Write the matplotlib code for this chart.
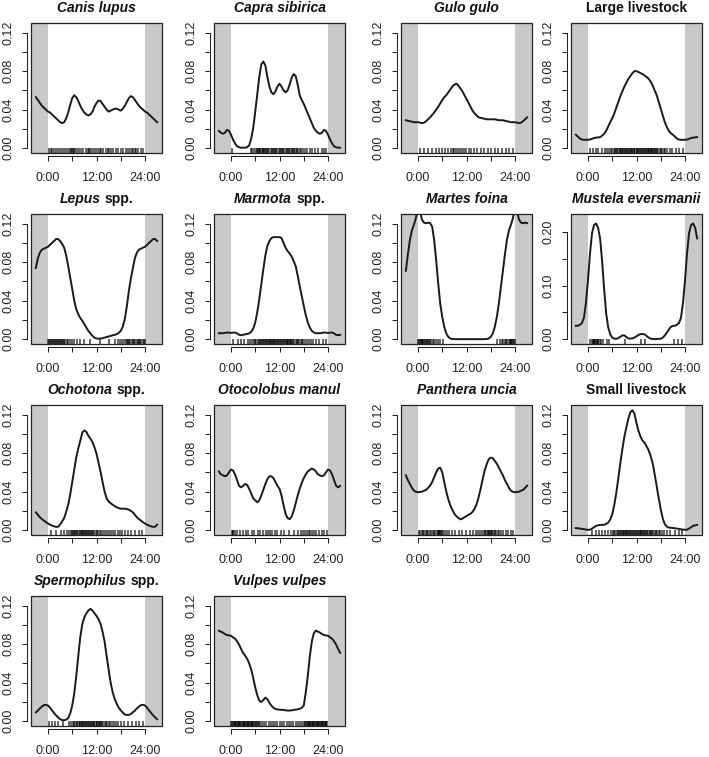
import matplotlib
matplotlib.use('Agg')
import matplotlib.pyplot as plt
import numpy as np
from matplotlib.offsetbox import TextArea, HPacker, AnnotationBbox
from matplotlib.patches import Rectangle

plt.rcParams['font.family'] = ['Liberation Sans', 'DejaVu Sans']

# density estimates read at every half hour, 0:00 .. 23:30
hours = np.arange(0, 24, 0.5)

canis = [0.038, 0.037, 0.035, 0.033, 0.031, 0.029, 0.027, 0.026, 0.027, 0.031, 0.037, 0.045,
         0.052, 0.055, 0.053, 0.049, 0.044, 0.040, 0.037, 0.035, 0.034, 0.035, 0.038, 0.043,
         0.047, 0.0495, 0.049, 0.046, 0.043, 0.040, 0.038, 0.039, 0.040, 0.041, 0.041, 0.040,
         0.039, 0.041, 0.044, 0.048, 0.052, 0.054, 0.053, 0.050, 0.047, 0.044, 0.042, 0.040]
capra = [0.014, 0.009, 0.005, 0.002, 0.001, 0.0005, 0.0005, 0.0005, 0.001, 0.003, 0.010, 0.021,
         0.038, 0.056, 0.074, 0.087, 0.090, 0.086, 0.074, 0.064, 0.058, 0.056, 0.059, 0.064,
         0.067, 0.064, 0.060, 0.058, 0.060, 0.066, 0.073, 0.077, 0.075, 0.066, 0.055, 0.050,
         0.046, 0.041, 0.036, 0.031, 0.026, 0.021, 0.018, 0.016, 0.015, 0.016, 0.019, 0.018]
gulo = [0.027, 0.0265, 0.026, 0.0265, 0.028, 0.030, 0.032, 0.0345, 0.037, 0.040, 0.043, 0.0465,
        0.050, 0.053, 0.055, 0.058, 0.061, 0.064, 0.066, 0.067, 0.065, 0.062, 0.059, 0.055,
        0.051, 0.047, 0.043, 0.039, 0.036, 0.034, 0.032, 0.0315, 0.031, 0.0305, 0.030, 0.030,
        0.030, 0.030, 0.030, 0.0295, 0.029, 0.029, 0.029, 0.0285, 0.028, 0.0275, 0.027, 0.027]
large_livestock = [0.0087, 0.009, 0.0097, 0.0105, 0.011, 0.0112, 0.0115, 0.013, 0.015, 0.018, 0.0225, 0.027,
                   0.031, 0.036, 0.042, 0.048, 0.054, 0.059, 0.064, 0.068, 0.072, 0.075, 0.078, 0.080,
                   0.080, 0.079, 0.078, 0.077, 0.0755, 0.074, 0.072, 0.069, 0.065, 0.060, 0.055, 0.048,
                   0.041, 0.034, 0.027, 0.022, 0.018, 0.0155, 0.014, 0.012, 0.010, 0.009, 0.0087, 0.0087]
lepus = [0.096, 0.098, 0.100, 0.102, 0.104, 0.104, 0.102, 0.099, 0.095, 0.087, 0.076, 0.064,
         0.052, 0.040, 0.031, 0.026, 0.022, 0.019, 0.0156, 0.012, 0.0086, 0.006, 0.0035, 0.0015,
         0.0007, 0.0005, 0.0007, 0.001, 0.0017, 0.0022, 0.0028, 0.0034, 0.004, 0.0045, 0.0052, 0.0065,
         0.0086, 0.013, 0.021, 0.034, 0.050, 0.063, 0.074, 0.084, 0.090, 0.093, 0.094, 0.095]
marmota = [0.0065, 0.0068, 0.0069, 0.006, 0.0045, 0.0042, 0.0045, 0.005, 0.0055, 0.006, 0.0076, 0.011,
           0.0173, 0.028, 0.0415, 0.057, 0.0726, 0.087, 0.0968, 0.102, 0.105, 0.106, 0.106, 0.106,
           0.106, 0.105, 0.100, 0.095, 0.0916, 0.089, 0.086, 0.081, 0.076, 0.066, 0.055, 0.045,
           0.0346, 0.025, 0.0173, 0.012, 0.0086, 0.007, 0.0062, 0.0062, 0.0062, 0.0065, 0.0069, 0.0068]
martes = [0.138, 0.133, 0.124, 0.121, 0.1205, 0.121, 0.1205, 0.117, 0.103, 0.082, 0.058, 0.037,
          0.023, 0.0128, 0.0059, 0.0024, 0.0007, 0.0002, 0.0001, 0.0, 0.0, 0.0, 0.0, 0.0,
          0.0, 0.0, 0.0, 0.0, 0.0, 0.0, 0.0, 0.0, 0.0, 0.0001, 0.0002, 0.0007,
          0.0024, 0.006, 0.0128, 0.023, 0.037, 0.054, 0.071, 0.088, 0.103, 0.113, 0.119, 0.126]
mustela = [0.110, 0.160, 0.198, 0.213, 0.216, 0.208, 0.188, 0.145, 0.093, 0.048, 0.022, 0.009,
           0.003, 0.001, 0.0005, 0.002, 0.0045, 0.007, 0.007, 0.004, 0.0015, 0.001, 0.0015, 0.003,
           0.0055, 0.008, 0.0095, 0.0095, 0.009, 0.006, 0.003, 0.001, 0.0003, 0.0002, 0.0002, 0.0005,
           0.001, 0.003, 0.007, 0.012, 0.018, 0.023, 0.025, 0.025, 0.027, 0.030, 0.040, 0.068]
ochotona = [0.0069, 0.0058, 0.0048, 0.004, 0.0034, 0.0036, 0.0058, 0.009, 0.0127, 0.019, 0.0264, 0.037,
            0.050, 0.063, 0.076, 0.085, 0.093, 0.1015, 0.1035, 0.102, 0.098, 0.095, 0.0915, 0.086,
            0.0795, 0.070, 0.0607, 0.050, 0.040, 0.033, 0.0298, 0.028, 0.0264, 0.025, 0.0237, 0.023,
            0.0223, 0.0223, 0.0223, 0.022, 0.0213, 0.020, 0.0185, 0.016, 0.0134, 0.0115, 0.0099, 0.0083]
otocolobus = [0.063, 0.062, 0.058, 0.052, 0.046, 0.0445, 0.046, 0.048, 0.047, 0.043, 0.038, 0.033,
              0.031, 0.029, 0.031, 0.036, 0.042, 0.048, 0.053, 0.056, 0.056, 0.054, 0.050, 0.046,
              0.043, 0.036, 0.026, 0.017, 0.0125, 0.0115, 0.014, 0.020, 0.028, 0.036, 0.043, 0.049,
              0.054, 0.058, 0.061, 0.0625, 0.064, 0.063, 0.061, 0.058, 0.057, 0.056, 0.057, 0.060]
panthera = [0.0394, 0.0397, 0.040, 0.041, 0.0418, 0.044, 0.0463, 0.050, 0.055, 0.060, 0.064, 0.065,
            0.060, 0.050, 0.040, 0.032, 0.0257, 0.021, 0.0171, 0.0145, 0.0127, 0.0113, 0.012, 0.0135,
            0.0147, 0.016, 0.0171, 0.019, 0.0223, 0.027, 0.0343, 0.043, 0.053, 0.062, 0.0686, 0.0737,
            0.0754, 0.0748, 0.072, 0.069, 0.065, 0.061, 0.057, 0.052, 0.048, 0.044, 0.041, 0.0398]
small_livestock = [0.0004, 0.0005, 0.0017, 0.003, 0.0045, 0.005, 0.0055, 0.0055, 0.0056, 0.0065, 0.0079, 0.011,
                   0.0165, 0.026, 0.0387, 0.054, 0.0696, 0.084, 0.097, 0.107, 0.116, 0.1227, 0.1245, 0.121,
                   0.111, 0.103, 0.097, 0.093, 0.0908, 0.087, 0.083, 0.077, 0.0696, 0.058, 0.0456, 0.033,
                   0.0216, 0.012, 0.0062, 0.0038, 0.0027, 0.0025, 0.0022, 0.002, 0.0017, 0.0013, 0.001, 0.0006]
spermophilus = [0.0163, 0.014, 0.0112, 0.0085, 0.0061, 0.004, 0.002, 0.0012, 0.001, 0.0015, 0.0034, 0.008,
                0.0163, 0.029, 0.047, 0.068, 0.0877, 0.101, 0.108, 0.112, 0.115, 0.1166, 0.115, 0.112,
                0.1094, 0.106, 0.101, 0.093, 0.0826, 0.068, 0.0534, 0.040, 0.030, 0.023, 0.018, 0.014,
                0.0112, 0.009, 0.007, 0.0065, 0.0065, 0.0075, 0.0092, 0.011, 0.0133, 0.0152, 0.0167, 0.017]
vulpes = [0.0888, 0.087, 0.0857, 0.083, 0.0795, 0.075, 0.071, 0.068, 0.0648, 0.060, 0.0538, 0.045,
          0.035, 0.027, 0.0213, 0.020, 0.022, 0.0245, 0.023, 0.019, 0.0161, 0.014, 0.0127, 0.0122,
          0.012, 0.0118, 0.0117, 0.0113, 0.011, 0.011, 0.0113, 0.0117, 0.012, 0.0123, 0.0127, 0.014,
          0.0161, 0.030, 0.047, 0.0675, 0.083, 0.0915, 0.094, 0.093, 0.092, 0.0905, 0.0895, 0.089]

# detection times (hours) shown as rug
canis_rug = [0.2, 0.7, 1.1, 1.6, 2.1, 2.5, 3.0, 3.4, 3.9, 4.5, 5.0, 5.4, 5.8, 6.0, 6.2, 6.4, 6.7, 7.1,
             7.6, 8.2, 8.7, 9.3, 9.9, 10.2, 10.5, 10.8, 11.3, 11.8, 12.3, 12.8, 13.2, 13.7, 14.3, 14.9,
             15.2, 15.5, 16.1, 16.8, 17.4, 18.0, 18.6, 19.3, 19.9, 20.4, 20.7, 21.0, 21.4, 21.8, 22.3,
             22.9, 23.5]
capra_rug = [0.2, 4.9, 5.3, 5.8, 6.1, 6.4, 6.6, 6.9, 7.1, 7.3, 7.6, 7.8, 8.0, 8.2, 8.5, 8.7, 9.0, 9.2,
             9.5, 9.8, 10.1, 10.3, 10.6, 10.9, 11.2, 11.5, 11.8, 12.0, 12.3, 12.6, 12.9, 13.2, 13.5,
             13.8, 14.1, 14.4, 14.7, 15.0, 15.2, 15.5, 15.7, 16.0, 16.3, 16.6, 17.0, 17.4, 17.9, 18.4,
             18.9, 19.5, 20.1, 20.8, 21.5, 22.4, 23.1, 23.6]
gulo_rug = [0.5, 1.4, 2.6, 3.5, 4.4, 5.2, 6.0, 6.8, 7.5, 8.1, 8.6, 9.0, 9.4, 9.9, 10.3, 10.8, 11.3,
            11.9, 12.5, 13.2, 13.9, 14.6, 15.5, 16.4, 17.3, 18.1, 19.0, 19.9, 20.8, 21.7, 22.6, 23.5]
large_livestock_rug = [0.5, 1.3, 2.1, 2.6, 3.4, 4.1, 4.7, 5.2, 5.6, 6.0, 6.4, 6.7, 7.0, 7.3, 7.5, 7.8,
                       8.0, 8.2, 8.5, 8.7, 8.9, 9.2, 9.4, 9.6, 9.9, 10.1, 10.3, 10.6, 10.8, 11.0, 11.3,
                       11.5, 11.7, 12.0, 12.2, 12.4, 12.7, 12.9, 13.1, 13.4, 13.6, 13.8, 14.1, 14.3, 14.5,
                       14.8, 15.0, 15.2, 15.5, 15.7, 15.9, 16.2, 16.4, 16.6, 16.9, 17.1, 17.4, 17.7, 18.0,
                       18.3, 18.7, 19.1, 19.6, 20.2, 20.9, 21.7, 22.6, 23.4]
lepus_rug = [0.1, 0.3, 0.5, 0.8, 1.0, 1.2, 1.5, 1.7, 2.0, 2.2, 2.4, 2.7, 2.9, 3.2, 3.4, 3.7, 4.0, 4.3,
             4.6, 5.0, 5.4, 5.9, 6.5, 7.2, 7.9, 8.8, 10.4, 12.9, 15.1, 16.6, 17.3, 17.9, 18.4, 18.8,
             19.2, 19.5, 19.8, 20.1, 20.4, 20.7, 21.0, 21.3, 21.6, 21.9, 22.2, 22.5, 22.8, 23.1, 23.4,
             23.7, 23.9]
marmota_rug = [0.6, 1.8, 2.5, 3.3, 4.2, 4.8, 5.3, 5.7, 6.0, 6.3, 6.6, 6.9, 7.2, 7.4, 7.7, 7.9, 8.2, 8.4,
               8.6, 8.9, 9.1, 9.3, 9.6, 9.8, 10.0, 10.3, 10.5, 10.7, 11.0, 11.2, 11.4, 11.7, 11.9, 12.1,
               12.4, 12.6, 12.8, 13.1, 13.3, 13.5, 13.8, 14.0, 14.2, 14.5, 14.7, 14.9, 15.2, 15.4, 15.7,
               16.0, 16.3, 16.6, 16.9, 17.2, 17.5, 17.9, 18.3, 18.7, 19.2, 19.7, 20.3, 21.0, 21.8, 22.7,
               23.5]
martes_rug = [0.1, 0.3, 0.5, 0.7, 0.9, 1.1, 1.3, 1.5, 1.8, 2.0, 2.2, 2.5, 2.7, 3.0, 3.3, 3.6, 4.0, 4.4,
              4.9, 5.5, 6.1, 19.6, 20.2, 20.7, 21.1, 21.5, 21.8, 22.1, 22.4, 22.7, 22.9, 23.1, 23.3,
              23.5, 23.7, 23.9]
mustela_rug = [0.6, 0.9, 1.2, 1.4, 1.6, 1.8, 2.0, 2.2, 2.4, 2.6, 2.9, 3.2, 3.6, 4.7, 5.3, 9.2, 13.0,
               14.1, 21.2, 22.3, 23.3]
ochotona_rug = [0.8, 1.9, 3.1, 4.0, 4.7, 5.2, 5.6, 5.9, 6.2, 6.5, 6.8, 7.0, 7.3, 7.5, 7.8, 8.0, 8.3,
                8.5, 8.7, 9.0, 9.2, 9.4, 9.7, 9.9, 10.2, 10.4, 10.7, 10.9, 11.2, 11.5, 11.8, 12.1, 12.4,
                12.8, 13.2, 13.7, 14.1, 14.6, 15.1, 15.5, 16.0, 16.6, 17.2, 17.8, 18.4, 19.0, 19.7,
                20.5, 21.4, 22.5, 23.3]
otocolobus_rug = [0.2, 0.4, 0.6, 0.9, 1.5, 2.2, 2.9, 3.6, 4.3, 5.1, 5.8, 6.6, 7.3, 8.0, 8.6, 9.1, 9.6,
                  10.2, 10.8, 11.5, 12.3, 13.2, 14.4, 15.6, 16.5, 17.2, 17.8, 18.3, 18.8, 19.2, 19.6,
                  20.0, 20.5, 21.1, 21.7, 22.4, 23.1, 23.7]
panthera_rug = [0.2, 0.5, 0.9, 1.2, 1.6, 1.9, 2.3, 2.6, 3.0, 3.3, 3.7, 4.0, 4.3, 4.6, 4.9, 5.1, 5.3,
                5.5, 5.7, 5.9, 6.2, 6.6, 7.1, 7.7, 8.4, 9.2, 10.1, 11.0, 11.9, 12.8, 13.6, 14.3, 14.9,
                15.4, 15.9, 16.3, 16.6, 16.9, 17.2, 17.4, 17.6, 17.8, 18.0, 18.2, 18.4, 18.7, 19.0,
                19.3, 19.7, 20.1, 20.6, 21.1, 21.7, 22.3, 23.0, 23.6]
small_livestock_rug = [0.9, 2.1, 2.8, 3.5, 4.3, 5.0, 5.6, 6.1, 6.5, 6.8, 7.1, 7.4, 7.6, 7.9, 8.1, 8.3,
                       8.6, 8.8, 9.0, 9.3, 9.5, 9.7, 10.0, 10.2, 10.4, 10.7, 10.9, 11.1, 11.4, 11.6, 11.8,
                       12.1, 12.3, 12.5, 12.8, 13.0, 13.2, 13.5, 13.7, 14.0, 14.2, 14.5, 14.7, 15.0, 15.3,
                       15.6, 15.9, 16.2, 16.5, 16.8, 17.1, 17.5, 17.9, 18.4, 18.9, 19.5, 20.3, 21.4, 22.6,
                       23.3]
spermophilus_rug = [0.3, 0.9, 1.7, 2.6, 3.8, 5.2, 5.8, 6.2, 6.5, 6.8, 7.1, 7.3, 7.6, 7.8, 8.0, 8.3,
                    8.5, 8.7, 9.0, 9.2, 9.4, 9.7, 9.9, 10.1, 10.4, 10.6, 10.8, 11.1, 11.3, 11.5, 11.8,
                    12.0, 12.2, 12.5, 12.7, 12.9, 13.2, 13.4, 13.7, 14.0, 14.3, 14.6, 15.0, 15.4, 15.8,
                    16.3, 16.8, 17.4, 18.1, 18.9, 19.8, 20.9, 21.8, 22.6, 23.4]
vulpes_rug = [0.1, 0.3, 0.5, 0.7, 0.9, 1.1, 1.3, 1.5, 1.7, 1.9, 2.1, 2.3, 2.5, 2.7, 2.9, 3.1, 3.3, 3.5,
              3.7, 3.9, 4.1, 4.3, 4.5, 4.7, 4.9, 5.1, 5.3, 5.5, 5.7, 5.9, 6.1, 6.4, 6.7, 7.0, 7.3, 7.7,
              8.2, 8.7, 9.3, 9.8, 10.4, 11.0, 11.5, 12.1, 12.6, 13.2, 13.8, 14.3, 14.9, 15.4, 16.0,
              16.6, 17.1, 17.6, 18.0, 18.3, 18.6, 18.8, 19.0, 19.2, 19.4, 19.6, 19.8, 20.0, 20.2, 20.4,
              20.6, 20.8, 21.0, 21.2, 21.4, 21.6, 21.8, 22.0, 22.2, 22.4, 22.6, 22.8, 23.0, 23.2, 23.4,
              23.6, 23.8]

# title pieces: (text, italic)
titles = [
    [('Canis lupus', True)], [('Capra sibirica', True)], [('Gulo gulo', True)],
    [('Large livestock', False)], [('Lepus', True), ('spp.', False)],
    [('Marmota', True), ('spp.', False)], [('Martes foina', True)],
    [('Mustela eversmanii', True)], [('Ochotona', True), ('spp.', False)],
    [('Otocolobus manul', True)], [('Panthera uncia', True)], [('Small livestock', False)],
    [('Spermophilus', True), ('spp.', False)], [('Vulpes vulpes', True)],
]
densities = [canis, capra, gulo, large_livestock, lepus, marmota, martes, mustela,
             ochotona, otocolobus, panthera, small_livestock, spermophilus, vulpes]
rugs = [canis_rug, capra_rug, gulo_rug, large_livestock_rug, lepus_rug, marmota_rug, martes_rug,
        mustela_rug, ochotona_rug, otocolobus_rug, panthera_rug, small_livestock_rug,
        spermophilus_rug, vulpes_rug]

fig = plt.figure(figsize=(7.09, 7.57), dpi=100)
W, H = 709, 757
col_left = [31, 214, 401, 571]
row_top = [23, 214, 405, 596]
pw, ph = 131, 130
shade = '#c9c9c9'
ink = '#222222'

for i, (title, dens, rug) in enumerate(zip(titles, densities, rugs)):
    r, c = divmod(i, 4)
    ax = fig.add_axes([col_left[c] / W, (H - row_top[r] - ph) / H, pw / W, ph / H])

    # axis lines sit a little outside the frame (set before ticks: this resets them)
    for s in ['top', 'right']:
        ax.spines[s].set_visible(False)
    ax.spines['left'].set_position(('outward', 3))
    ax.spines['bottom'].set_position(('outward', 2))

    # circular density drawn 3 h beyond each end of the day
    x = np.concatenate([hours[-6:] - 24, hours, hours[:7] + 24])
    y = np.concatenate([dens[-6:], dens, dens[:7]])

    if i == 7:
        ymax = 0.2246
        yt = [0, 0.05, 0.10, 0.15, 0.20]
        yl = ['0.00', '', '0.10', '', '0.20']
    else:
        ymax = 0.125
        yt = [0, 0.02, 0.04, 0.06, 0.08, 0.10, 0.12]
        yl = ['0.00', '', '0.04', '', '0.08', '', '0.12']
    ax.set_xlim(-4.2, 28.2)
    ax.set_ylim(-0.04 * ymax, 1.04 * ymax)

    ax.axvspan(-4.2, 0, color=shade, lw=0, zorder=0)
    ax.axvspan(24, 28.2, color=shade, lw=0, zorder=0)
    ax.plot(x, y, color='#1a1a1a', lw=1.4, zorder=3)
    ax.vlines(rug, 0, 0.035, transform=ax.get_xaxis_transform(),
              color='black', alpha=0.7, lw=1.2, zorder=2)

    ax.add_patch(Rectangle((0, 0), 1, 1, transform=ax.transAxes, fill=False,
                           lw=0.9, ec=ink, zorder=5, clip_on=False))

    ax.set_xticks([0, 6, 12, 18, 24])
    ax.set_xticklabels(['0:00', '', '12:00', '', '24:00'])
    ax.set_yticks(yt)
    ax.set_yticklabels(yl, va='center')
    ax.tick_params(axis='both', direction='out', length=3.8, width=0.75,
                   labelsize=9, color=ink, labelcolor=ink)
    ax.tick_params(axis='x', pad=8)
    ax.tick_params(axis='y', pad=5, labelrotation=90)

    ax.spines['left'].set_bounds(yt[0], yt[-1])
    ax.spines['bottom'].set_bounds(0, 24)
    for s in ['left', 'bottom']:
        ax.spines[s].set_linewidth(0.75)
        ax.spines[s].set_color(ink)

    parts = [TextArea(t, textprops=dict(fontsize=10, fontweight='bold',
                                        fontstyle='italic' if it else 'normal',
                                        color='#111111'))
             for t, it in title]
    box = HPacker(children=parts, align='baseline', pad=0, sep=3)
    ab = AnnotationBbox(box, (0.5, 1.0), xycoords='axes fraction', xybox=(0, 6),
                        boxcoords='offset points', box_alignment=(0.5, 0.0),
                        frameon=False, pad=0)
    ax.add_artist(ab)

fig.savefig('out.png', dpi=100)
